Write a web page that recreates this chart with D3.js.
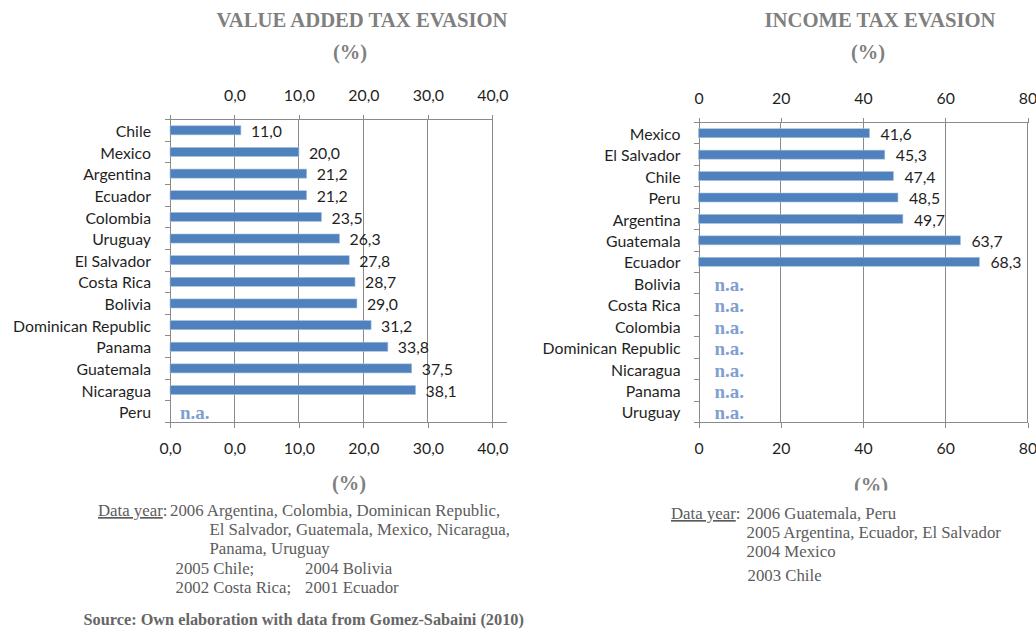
<!DOCTYPE html>
<html><head><meta charset="utf-8">
<script src="https://cdn.jsdelivr.net/npm/d3@7"></script>
<style>body{margin:0;background:#fff}</style></head>
<body>
<svg id="c" width="1036" height="630"></svg>
<script>
// ---------- DATA ----------
const vatCountries = ["Chile","Mexico","Argentina","Ecuador","Colombia","Uruguay","El Salvador","Costa Rica","Bolivia","Dominican Republic","Panama","Guatemala","Nicaragua","Peru"];
const vatValues = [11.0,20.0,21.2,21.2,23.5,26.3,27.8,28.7,29.0,31.2,33.8,37.5,38.1,null];
const vatTickValues = [0,10,20,30,40,50];
const vatTopTickLabels = ["","0,0","10,0","20,0","30,0","40,0"];
const vatBottomTickLabels = ["0,0","0,0","10,0","20,0","30,0","40,0"];

const incCountries = ["Mexico","El Salvador","Chile","Peru","Argentina","Guatemala","Ecuador","Bolivia","Costa Rica","Colombia","Dominican Republic","Nicaragua","Panama","Uruguay"];
const incValues = [41.6,45.3,47.4,48.5,49.7,63.7,68.3,null,null,null,null,null,null,null];
const incTickValues = [0,20,40,60,80];
const incTopTickLabels = ["0","20","40","60","80"];
const incBottomTickLabels = ["0","20","40","60","80"];

const vatTitle = "VALUE ADDED TAX EVASION";
const incTitle = "INCOME TAX EVASION";
const unitLabel = "(%)";
const naLabel = "n.a.";
const vatNoteLines = ["2006 Argentina, Colombia, Dominican Republic,","El Salvador, Guatemala, Mexico, Nicaragua,","Panama, Uruguay","2005 Chile;","2004 Bolivia","2002 Costa Rica;","2001 Ecuador"];
const incNoteLines = ["2006 Guatemala, Peru","2005 Argentina, Ecuador, El Salvador","2004 Mexico","2003 Chile"];
const noteHead = "Data year";
const sourceText = "Source: Own elaboration with data from Gomez-Sabaini (2010)";

// ---------- DRAW ----------
const svg = d3.select("#c");
const SANS = "Lato, 'Open Sans', sans-serif";
const SERIF = "'Liberation Serif', 'Times New Roman', serif";
const fmt = d3.formatLocale({decimal:",", thousands:".", grouping:[3], currency:["",""]}).format(".1f");

const probe = svg.append("text").attr("font-family", SANS).attr("font-size", 100).text("Dominican Republic");
const pw = probe.node().getComputedTextLength();
probe.remove();
const sansSize = Math.min(16, 138 / pw * 100);

const gridColor = "#8a8a8a";
const textColor = "#1f1f1f";
const barColor = "#4f81bd";
const naColor = "#7f9fd0";
const titleColor = "#7f7f7f";

function drawChart(cfg) {
  const g = svg.append("g");
  const x = d3.scaleLinear().domain([cfg.ticks[0], cfg.ticks[cfg.ticks.length-1]]).range([cfg.x0, cfg.x1]);
  const y = d3.scaleBand().domain(cfg.cats).range([cfg.yTop, cfg.yBottom]).paddingInner(0.58).paddingOuter(0.29);
  const step = y.step();

  g.selectAll("line.grid").data(cfg.ticks.slice(1)).join("line")
    .attr("x1", d => x(d)).attr("x2", d => x(d))
    .attr("y1", cfg.yTop).attr("y2", cfg.yBottom)
    .attr("stroke", gridColor).attr("stroke-width", 1).attr("shape-rendering","crispEdges");

  const topAxis = d3.axisTop(x).tickValues(cfg.ticks).tickSize(5).tickPadding(14)
    .tickFormat((d,i) => cfg.topLabels[i]);
  const ta = g.append("g").attr("transform", `translate(0,${cfg.yTop})`).call(topAxis);
  const bottomAxis = d3.axisBottom(x).tickValues(cfg.ticks).tickSize(5).tickPadding(15)
    .tickFormat((d,i) => cfg.bottomLabels[i]);
  const ba = g.append("g").attr("transform", `translate(0,${cfg.yBottom})`).call(bottomAxis);
  [ta, ba].forEach(a => {
    a.select(".domain").remove();
    a.selectAll(".tick line").attr("stroke", gridColor).attr("shape-rendering","crispEdges");
    a.selectAll(".tick text").attr("font-family", SANS).attr("font-size", sansSize).attr("fill", textColor);
  });
  ta.selectAll(".tick text").attr("dy", "0em");
  g.append("line").attr("x1", cfg.x0 - 5).attr("x2", cfg.x1).attr("y1", cfg.yTop).attr("y2", cfg.yTop)
    .attr("stroke", gridColor).attr("shape-rendering","crispEdges");
  g.append("line").attr("x1", cfg.x0 - 5).attr("x2", cfg.x1 + cfg.bottomExt).attr("y1", cfg.yBottom).attr("y2", cfg.yBottom)
    .attr("stroke", gridColor).attr("shape-rendering","crispEdges");

  const leftAxis = d3.axisLeft(y).tickSize(0).tickPadding(cfg.labelGap);
  const la = g.append("g").attr("transform", `translate(${cfg.x0},0)`).call(leftAxis);
  la.select(".domain").attr("stroke", gridColor).attr("shape-rendering","crispEdges");
  la.selectAll(".tick text").attr("font-family", SANS).attr("font-size", sansSize).attr("fill", textColor).attr("dy", "0.42em");
  g.selectAll("line.ytick").data(d3.range(cfg.cats.length + 1)).join("line")
    .attr("x1", cfg.x0 - 5).attr("x2", cfg.x0)
    .attr("y1", i => cfg.yTop + i * step).attr("y2", i => cfg.yTop + i * step)
    .attr("stroke", gridColor).attr("shape-rendering","crispEdges");

  const rows = cfg.cats.map((c, i) => ({c, v: cfg.vals[i]}));
  g.selectAll("rect.bar").data(rows.filter(r => r.v != null)).join("rect")
    .attr("x", x(0)).attr("y", d => y(d.c)).attr("width", d => x(d.v) - x(0)).attr("height", y.bandwidth())
    .attr("fill", barColor).attr("stroke", "#a9c0de").attr("stroke-width", 0.6);
  g.selectAll("text.val").data(rows.filter(r => r.v != null)).join("text")
    .attr("x", d => x(d.v) + cfg.valGap).attr("y", d => y(d.c) + y.bandwidth()/2).attr("dy", "0.42em")
    .attr("font-family", SANS).attr("font-size", sansSize).attr("fill", textColor).text(d => fmt(d.v));
  g.selectAll("text.na").data(rows.filter(r => r.v == null)).join("text")
    .attr("x", x(0) + cfg.naGap).attr("y", d => y(d.c) + y.bandwidth()/2).attr("dy", "0.4em")
    .attr("font-family", SERIF).attr("font-weight", "bold").attr("font-size", 19).attr("fill", naColor).text(naLabel);

  g.append("text").attr("x", cfg.titleX).attr("y", 27).attr("text-anchor", "middle")
    .attr("font-family", SERIF).attr("font-weight", "bold").attr("font-size", 20.7).attr("fill", titleColor).text(cfg.title);
  g.append("text").attr("x", cfg.pctX).attr("y", 59).attr("text-anchor", "middle")
    .attr("font-family", SERIF).attr("font-weight", "bold").attr("font-size", 20.5).attr("fill", titleColor).text(unitLabel);
  const bp = g.append("text").attr("x", cfg.pctBX).attr("y", cfg.pctBY).attr("text-anchor", "middle")
    .attr("font-family", SERIF).attr("font-weight", "bold").attr("font-size", 20.5).attr("fill", titleColor).text(unitLabel);
  if (cfg.clipY) {
    const id = "clip" + Math.round(cfg.x0);
    svg.append("clipPath").attr("id", id).append("rect").attr("x", cfg.pctBX - 30).attr("y", 460).attr("width", 60).attr("height", cfg.clipY - 460);
    bp.attr("clip-path", `url(#${id})`);
  }
}

drawChart({cats: vatCountries, vals: vatValues, ticks: vatTickValues, topLabels: vatTopTickLabels, bottomLabels: vatBottomTickLabels,
  x0: 170, x1: 492.3, yTop: 119.5, yBottom: 422.5, bottomExt: 15, labelGap: 19, valGap: 10, naGap: 10,
  title: vatTitle, titleX: 362, pctX: 350, pctBX: 349, pctBY: 490});
drawChart({cats: incCountries, vals: incValues, ticks: incTickValues, topLabels: incTopTickLabels, bottomLabels: incBottomTickLabels,
  x0: 698.5, x1: 1027.5, yTop: 122.5, yBottom: 422.5, bottomExt: 0, labelGap: 18, valGap: 11, naGap: 16,
  title: incTitle, titleX: 880, pctX: 868, pctBX: 871, pctBY: 492, clipY: 490.5});

const noteColor = "#5c5c5c";
const NOTE_SIZE = 16.8;
function note(x, yb, txt, opts = {}) {
  const t = svg.append("text").attr("x", x).attr("y", yb).attr("font-family", SERIF).attr("font-size", opts.size || NOTE_SIZE)
    .attr("fill", opts.color || noteColor).text(txt);
  if (opts.bold) t.attr("font-weight", "bold");
  return t;
}
function head(x, yb) {
  const t = svg.append("text").attr("x", x).attr("y", yb).attr("font-family", SERIF).attr("font-size", NOTE_SIZE).attr("fill", noteColor);
  t.append("tspan").attr("text-decoration", "underline").text(noteHead);
  t.append("tspan").text(":");
}
head(98, 516);
note(170, 516, vatNoteLines[0]);
note(209.5, 535, vatNoteLines[1]);
note(209.5, 554, vatNoteLines[2]);
note(175.5, 574, vatNoteLines[3]);
note(305, 574, vatNoteLines[4]);
note(175.5, 593, vatNoteLines[5]);
note(305, 593, vatNoteLines[6]);
note(83.5, 625, sourceText, {bold: true, color: "#666", size: 16.3});
head(671, 519);
note(746.5, 519, incNoteLines[0]);
note(746.5, 538, incNoteLines[1]);
note(746.5, 557, incNoteLines[2]);
note(747.5, 581, incNoteLines[3]);
</script>
</body></html>
